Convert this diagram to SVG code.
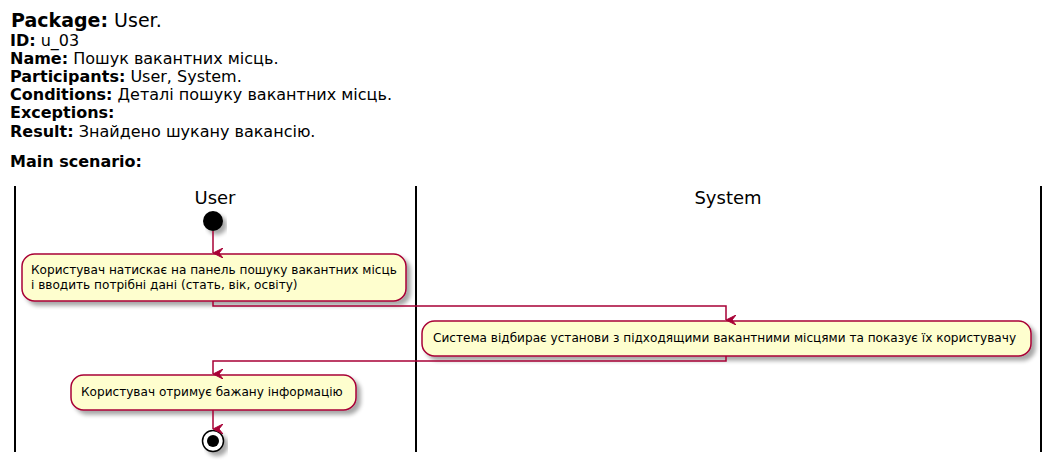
<svg xmlns="http://www.w3.org/2000/svg" width="1059" height="467" viewBox="0 0 1059 467">
<defs>
<filter id="sh" x="-10%" y="-20%" width="130%" height="160%">
<feGaussianBlur in="SourceAlpha" stdDeviation="2"/>
<feOffset dx="4" dy="4" result="b"/>
<feComponentTransfer><feFuncA type="linear" slope="0.35"/></feComponentTransfer>
<feMerge><feMergeNode/><feMergeNode in="SourceGraphic"/></feMerge>
</filter>
<marker id="ah" viewBox="0 0 10 10" refX="5" refY="10" markerWidth="10" markerHeight="10" markerUnits="userSpaceOnUse" orient="auto-start-reverse">
<path d="M0,0 L5,10 L10,0 L5,4 Z" fill="#A80036" stroke="#A80036" stroke-width="1"/>
</marker>
</defs>
<style>
text{font-family:"DejaVu Sans",sans-serif;fill:#000}
.h{font-size:16px}
.b{font-weight:bold}
.lane{stroke:#000;stroke-width:2}
.act{fill:#FEFECE;stroke:#A80036;stroke-width:1.5}
.at{font-size:12.1px}
.lt{font-size:18px}
.c{fill:none;stroke:#A80036;stroke-width:1.5}
</style>
<rect width="1059" height="467" fill="#fff"/>
<g id="header">
<text x="11" y="27" style="font-size:19px"><tspan class="b">Package:</tspan> User.</text>
<text x="10" y="46" class="h"><tspan class="b">ID:</tspan> u_03</text>
<text x="10" y="64" class="h"><tspan class="b">Name:</tspan> Пошук вакантних місць.</text>
<text x="10" y="82" class="h"><tspan class="b">Participants:</tspan> User, System.</text>
<text x="10" y="100" class="h"><tspan class="b">Conditions:</tspan> Деталі пошуку вакантних місць.</text>
<text x="10" y="118" class="h"><tspan class="b">Exceptions:</tspan></text>
<text x="10" y="137" class="h"><tspan class="b">Result:</tspan> Знайдено шукану вакансію.</text>
<text x="10" y="167" class="h b">Main scenario:</text>
</g>
<g id="lanes">
<line class="lane" x1="15" y1="186" x2="15" y2="452"/>
<line class="lane" x1="416" y1="186" x2="416" y2="452"/>
<line class="lane" x1="1041" y1="186" x2="1041" y2="452"/>
<text x="215" y="204" class="lt" text-anchor="middle">User</text>
<text x="728" y="204" class="lt" text-anchor="middle">System</text>
</g>
<g id="start">
<circle cx="213" cy="221" r="10" fill="#000" filter="url(#sh)"/>
</g>
<g id="a1">
<rect class="act" x="22" y="254" width="384" height="47" rx="12.5" filter="url(#sh)"/>
<text class="at" x="31" y="274">Користувач натискає на панель пошуку вакантних місць</text>
<text class="at" x="31" y="289">і вводить потрібні дані (стать, вік, освіту)</text>
</g>
<g id="a2">
<rect class="act" x="422" y="321" width="609" height="35" rx="12.5" filter="url(#sh)"/>
<text class="at" x="433" y="342">Система відбирає установи з підходящими вакантними місцями та показує їх користувачу</text>
</g>
<g id="a3">
<rect class="act" x="71" y="375" width="285" height="35" rx="12.5" filter="url(#sh)"/>
<text class="at" x="81" y="396">Користувач отримує бажану інформацію</text>
</g>
<g id="end">
<circle cx="213" cy="441" r="10.5" fill="#fff" stroke="#000" stroke-width="1.5" filter="url(#sh)"/>
<circle cx="213" cy="441" r="6" fill="#000"/>
</g>
<g id="connectors">
<path class="c" d="M213,231 L213,253" marker-end="url(#ah)"/>
<path class="c" d="M213,301 L213,306 L726,306 L726,320" marker-end="url(#ah)"/>
<path class="c" d="M726,356 L726,361 L213,361 L213,374" marker-end="url(#ah)"/>
<path class="c" d="M213,410 L213,429" marker-end="url(#ah)"/>
</g>
</svg>
